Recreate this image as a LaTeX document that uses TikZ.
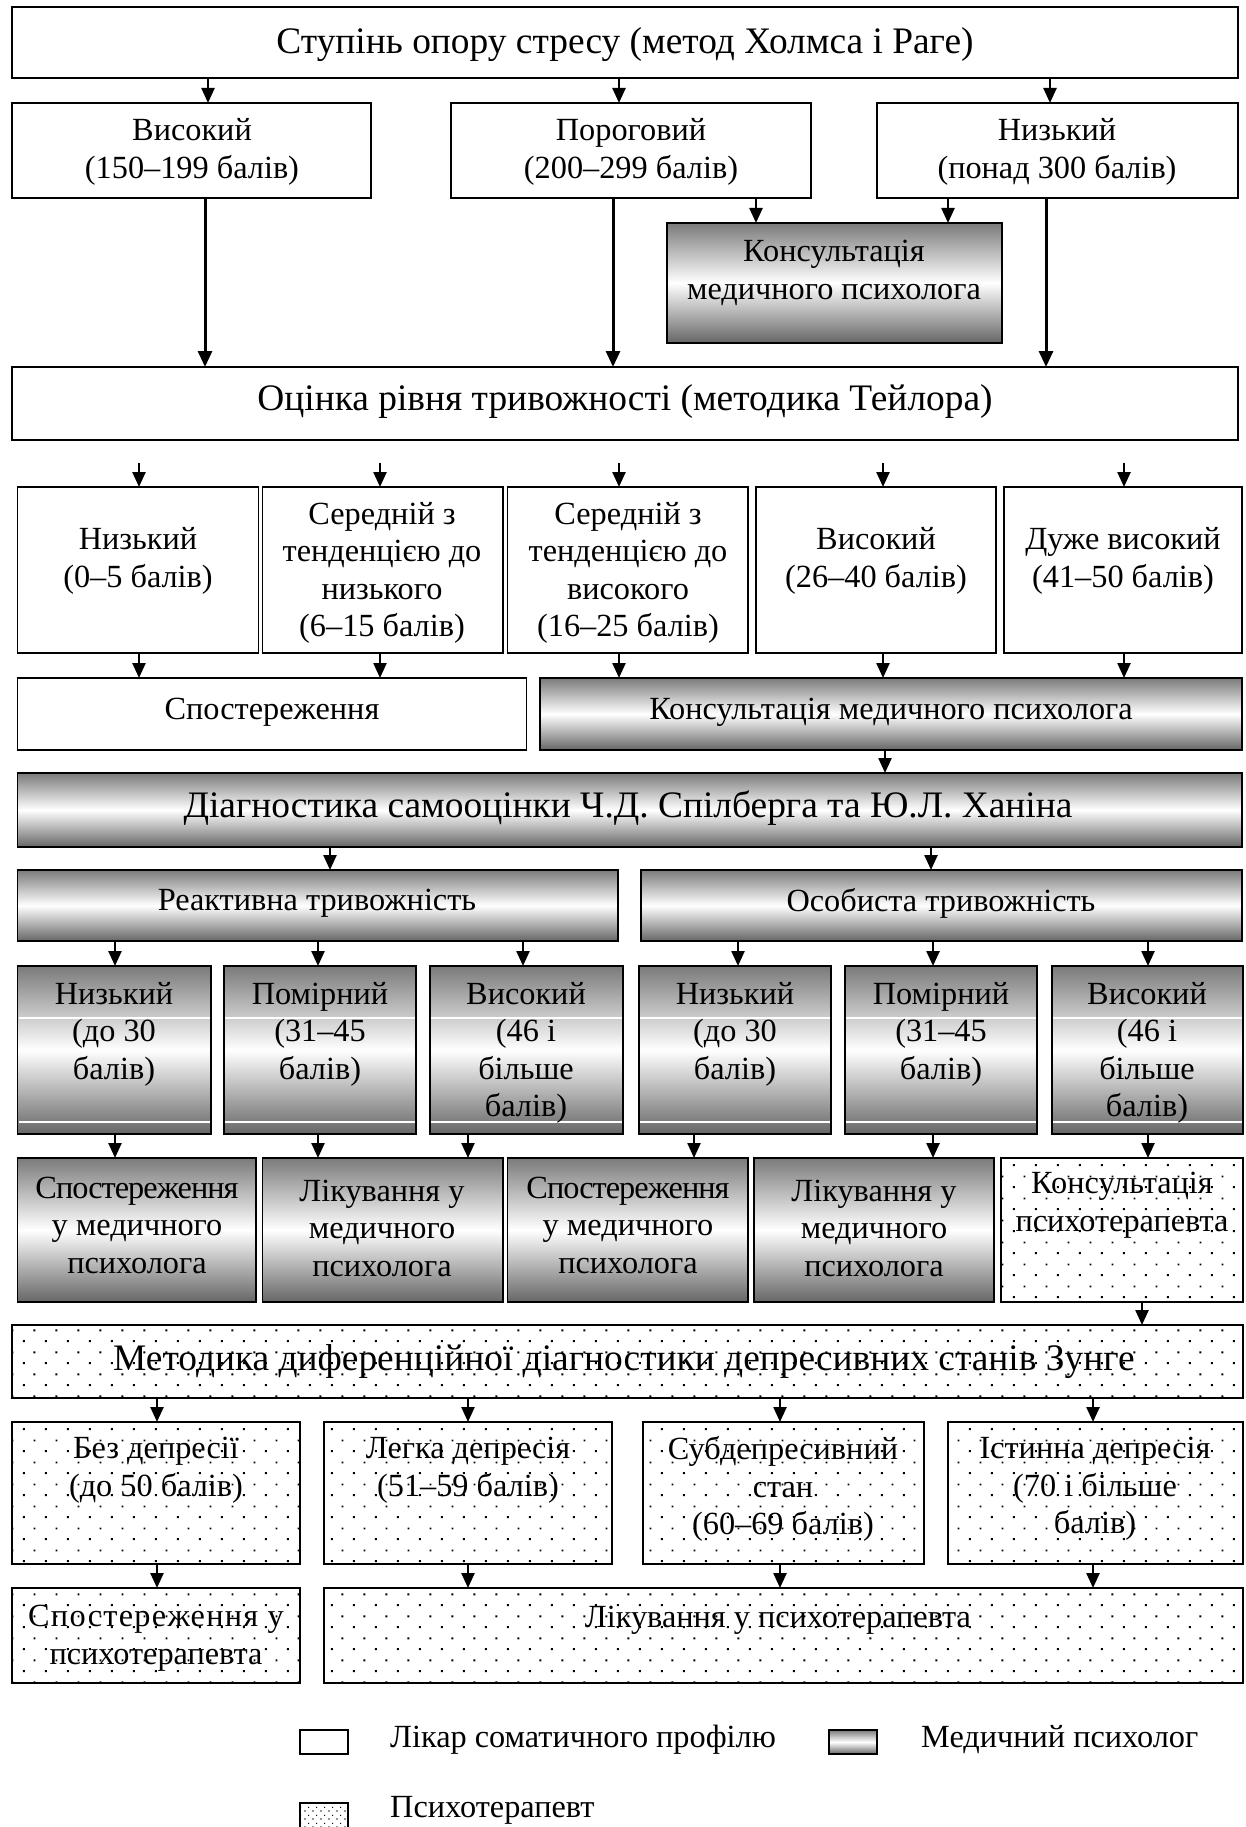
\documentclass[tikz,border=0pt]{standalone}
\usepackage{fontspec}
\setmainfont{Liberation Serif}
\usetikzlibrary{arrows.meta,patterns,patterns.meta}

\tikzdeclarepattern{
  name=psydots,
  type=uncolored,
  bounding box={(0pt,0pt) and (22pt,22pt)},
  tile size={(22pt,22pt)},
  code={\fill (1pt,1pt) rectangle (3pt,3pt); \fill (12pt,12pt) rectangle (14pt,14pt);}
}
\tikzdeclarepattern{
  name=psydotsS,
  type=uncolored,
  bounding box={(0pt,0pt) and (8pt,8pt)},
  tile size={(8pt,8pt)},
  code={\fill (0.5pt,0.5pt) rectangle (1.7pt,1.7pt); \fill (4.5pt,4.5pt) rectangle (5.7pt,5.7pt);}
}

\newcommand\boxf{\fontsize{32.3pt}{37.5pt}\selectfont}
\newcommand\bigf{\fontsize{37.4pt}{42pt}\selectfont}
% box: name, style, x1, y1, x2, y2
\newcommand\mkbox[6]{\node[#2, minimum width={#5pt-#3pt}, minimum height={#6pt-#4pt}] (#1) at (#3,#4) {};}
% arrow from bottom of #2 to top of #3 at x = #4
\newcommand\arw[4][arr]{\draw[#1] (#2.south -| #4,0) -- (#3.north -| #4,0);}

\begin{document}
\begin{tikzpicture}[x=1pt,y=-1pt,
  bx/.style={draw, line width=1.4pt, inner sep=0pt, outer sep=0pt, anchor=north west},
  plain/.style={bx, fill=white},
  med/.style={bx, top color=black!52, bottom color=black!60, middle color=white},
  psy/.style={bx, pattern=psydots},
  txt/.style={align=center, font=\boxf, inner sep=0pt},
  big/.style={align=center, font=\bigf, inner sep=0pt},
  arr/.style={line width=2.4pt, -{Triangle[length=15pt,width=13pt]}},
  arrL/.style={line width=3pt, -{Triangle[length=16pt,width=14pt]}},
  band/.style={white, line width=1.3pt}
]
\useasboundingbox[fill=white] (0,0) rectangle (1246,1827);

% ---- level 1
\mkbox{top}{plain}{12}{7}{1238}{78}
\node[big] (top-t) at (625,45) {Ступінь опору стресу (метод Холмса і Раге)};

\mkbox{hi}{plain}{12}{103}{371}{198}
\node[txt] (hi-t) at (192,152) {Високий\\(150–199 балів)};
\mkbox{thr}{plain}{451}{103}{811}{198}
\node[txt] (thr-t) at (631,152) {Пороговий\\(200–299 балів)};
\mkbox{lo}{plain}{877}{103}{1238}{198}
\node[txt] (lo-t) at (1057,152) {Низький\\(понад 300 балів)};
\arw{top}{hi}{208}
\arw{top}{thr}{619}
\arw{top}{lo}{1050}

\mkbox{cons1}{med}{667}{223}{1002}{343}
\node[txt] (cons1-t) at (834,273) {Консультація\\медичного психолога};
\arw{thr}{cons1}{756}
\arw{lo}{cons1}{948}

\mkbox{tay}{plain}{12}{367}{1238}{440}
\node[big] (tay-t) at (625,402) {Оцінка рівня тривожності (методика Тейлора)};
\arw[arrL]{hi}{tay}{205}
\arw[arrL]{thr}{tay}{613}
\arw[arrL]{lo}{tay}{1046}

% ---- Taylor levels
\mkbox{r5a}{plain}{17.5}{487}{258.6}{653}
\node[txt] (r5a-t) at (138,561) {Низький\\(0–5 балів)};
\mkbox{r5b}{plain}{262.5}{487}{502.8}{653}
\node[txt] (r5b-t) at (382,573) {Середній з\\тенденцією до\\низького\\(6–15 балів)};
\mkbox{r5c}{plain}{507.6}{487}{747.8}{653}
\node[txt] (r5c-t) at (628,573) {Середній з\\тенденцією до\\високого\\(16–25 балів)};
\mkbox{r5d}{plain}{755.8}{487}{996}{653}
\node[txt] (r5d-t) at (876,561) {Високий\\(26–40 балів)};
\mkbox{r5e}{plain}{1004}{487}{1242}{653}
\node[txt] (r5e-t) at (1123,561) {Дуже високий\\(41–50 балів)};
\foreach \n/\xx in {a/139,b/380,c/619,d/883,e/1124}{
  \coordinate (s\n) at (\xx,463);
  \draw[arr] (s\n) -- (r5\n.north -| s\n);
}

\mkbox{obs1}{plain}{17.5}{678}{526.6}{750}
\node[txt] (obs1-t) at (272,712) {Спостереження};
\mkbox{cons2}{med}{540}{678}{1242}{750}
\node[txt] (cons2-t) at (891,712) {Консультація медичного психолога};
\arw{r5a}{obs1}{139}
\arw{r5b}{obs1}{380}
\arw{r5c}{cons2}{619}
\arw{r5d}{cons2}{883}
\arw{r5e}{cons2}{1124}

\mkbox{diag}{med}{17.5}{773}{1242}{847}
\node[big] (diag-t) at (628,808) {Діагностика самооцінки Ч.Д. Спілберга та Ю.Л. Ханіна};
\arw{cons2}{diag}{885}

\mkbox{react}{med}{17.5}{870}{618}{941}
\node[txt] (react-t) at (317,903) {Реактивна тривожність};
\mkbox{pers}{med}{641}{870}{1242}{941}
\node[txt] (pers-t) at (941,903) {Особиста тривожність};
\arw{diag}{react}{330}
\arw{diag}{pers}{931}

% ---- Spielberger levels
\mkbox{r6a}{med}{17.5}{966}{211}{1134}
\mkbox{r6b}{med}{224}{966}{416}{1134}
\mkbox{r6c}{med}{430}{966}{623}{1134}
\mkbox{r6d}{med}{639}{966}{831}{1134}
\mkbox{r6e}{med}{845}{966}{1037}{1134}
\mkbox{r6f}{med}{1052}{966}{1243}{1134}
\foreach \n in {a,b,c,d,e,f}{
  \draw[band] ([xshift=1pt]r6\n.west |- 0,1018) -- ([xshift=-1pt]r6\n.east |- 0,1018);
  \draw[band] ([xshift=1pt]r6\n.west |- 0,1122) -- ([xshift=-1pt]r6\n.east |- 0,1122);
}
\node[txt] (r6a-t) at (114,1034) {Низький\\(до 30\\балів)};
\node[txt] (r6b-t) at (320,1034) {Помірний\\(31–45\\балів)};
\node[txt] (r6c-t) at (526,1053) {Високий\\(46 і\\більше\\балів)};
\node[txt] (r6d-t) at (735,1034) {Низький\\(до 30\\балів)};
\node[txt] (r6e-t) at (941,1034) {Помірний\\(31–45\\балів)};
\node[txt] (r6f-t) at (1147,1053) {Високий\\(46 і\\більше\\балів)};
\arw{react}{r6a}{115}
\arw{react}{r6b}{318}
\arw{react}{r6c}{523}
\arw{pers}{r6d}{738}
\arw{pers}{r6e}{933}
\arw{pers}{r6f}{1148}

\mkbox{r7a}{med}{17.5}{1158}{256}{1302}
\node[txt] (r7a-t) at (137,1225) {\addfontfeatures{LetterSpace=-3}Спостереження\\у медичного\\психолога};
\mkbox{r7b}{med}{262.5}{1158}{502.8}{1302}
\node[txt] (r7b-t) at (382,1228) {Лікування у\\медичного\\психолога};
\mkbox{r7c}{med}{507.6}{1158}{748}{1302}
\node[txt] (r7c-t) at (628,1225) {\addfontfeatures{LetterSpace=-3}Спостереження\\у медичного\\психолога};
\mkbox{r7d}{med}{754}{1158}{994}{1302}
\node[txt] (r7d-t) at (874,1228) {Лікування у\\медичного\\психолога};
\mkbox{r7e}{psy}{1001}{1158}{1243}{1302}
\node[txt] (r7e-t) at (1122,1205) {Консультація\\психотерапевта};
\arw{r6a}{r7a}{115}
\arw{r6b}{r7b}{318}
\arw{r6c}{r7b}{468}
\arw{r6d}{r7c}{694}
\arw{r6e}{r7d}{933}
\arw{r6f}{r7e}{1148}

% ---- Zung
\mkbox{zung}{psy}{12}{1325}{1243}{1398}
\node[big] (zung-t) at (624,1362) {Методика диференційної діагностики депресивних станів Зунге};
\arw{r7e}{zung}{1142}

\mkbox{r8a}{psy}{12}{1422}{300}{1564}
\node[txt] (r8a-t) at (156,1470) {Без депресії\\(до 50 балів)};
\mkbox{r8b}{psy}{324}{1422}{612}{1564}
\node[txt] (r8b-t) at (468,1470) {Легка депресія\\(51–59 балів)};
\mkbox{r8c}{psy}{643}{1422}{924}{1564}
\node[txt] (r8c-t) at (783,1489) {Субдепресивний\\стан\\(60–69 балів)};
\mkbox{r8d}{psy}{948}{1422}{1243}{1564}
\node[txt] (r8d-t) at (1095,1489) {Істинна депресія\\(70 і більше\\балів)};
\arw{zung}{r8a}{157}
\arw{zung}{r8b}{468}
\arw{zung}{r8c}{780}
\arw{zung}{r8d}{1093}

\mkbox{r9a}{psy}{12}{1588}{300}{1683}
\node[txt] (r9a-t) at (156,1638) {\addfontfeatures{LetterSpace=4}Спостереження у\\психотерапевта};
\mkbox{r9b}{psy}{324}{1588}{1243}{1683}
\node[txt] (r9b-t) at (778,1620) {Лікування у психотерапевта};
\arw{r8a}{r9a}{157}
\arw{r8b}{r9b}{468}
\arw{r8c}{r9b}{780}
\arw{r8d}{r9b}{1093}

% ---- legend
\mkbox{leg1}{plain}{300}{1730}{348}{1754}
\node[txt, anchor=west] (leg1-t) at (390,1740) {Лікар соматичного профілю};
\mkbox{leg2}{med}{829}{1730}{877}{1754}
\node[txt, anchor=west] (leg2-t) at (921,1740) {Медичний психолог};
\node[bx, pattern=psydotsS, minimum width=48pt, minimum height=30pt] (leg3) at (300,1803) {};
\node[txt, anchor=west] (leg3-t) at (390,1810) {Психотерапевт};
\end{tikzpicture}
\end{document}
